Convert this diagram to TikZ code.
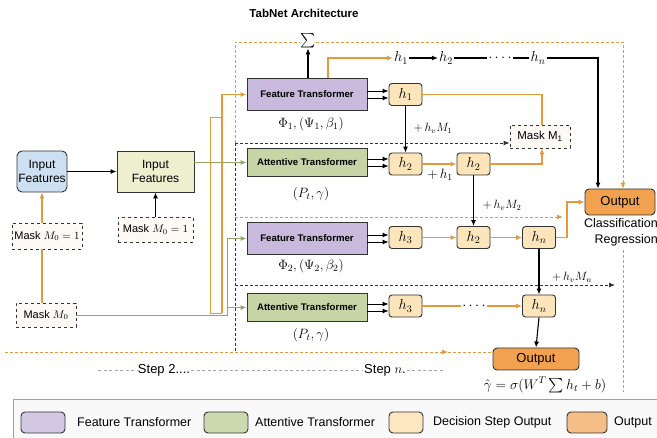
\documentclass[tikz,border=0pt]{standalone}
\usepackage{fix-cm}
\usepackage{amsmath}
\usepackage{fontspec}
\setmainfont{Liberation Sans}
\usetikzlibrary{arrows.meta,calc}

\definecolor{ftfill}{HTML}{C9B9DD}
\definecolor{atfill}{HTML}{C7D5A6}
\definecolor{hfill}{HTML}{FCE5BA}
\definecolor{infill}{HTML}{CCE0F1}
\definecolor{inbfill}{HTML}{EDEFCF}
\definecolor{outfill}{HTML}{F2A24F}
\definecolor{maskfill}{HTML}{FDF9F5}
\definecolor{orl}{HTML}{E49A3A}
\definecolor{grl}{HTML}{8EA66A}
\definecolor{edge}{HTML}{333333}
\definecolor{legft}{HTML}{D3C8E3}
\definecolor{legat}{HTML}{CCD9AE}
\definecolor{legh}{HTML}{FCE7C0}
\definecolor{legout}{HTML}{F5BE86}

\newcommand{\fourdots}{{\cdot}\,{\cdot}\,{\cdot}\,{\cdot}}

\tikzset{
  boxbase/.style={draw=edge, line width=0.9pt, inner sep=0pt},
  ftbox/.style={boxbase, fill=ftfill, minimum width=120pt, minimum height=32pt,
    font=\bfseries\fontsize{9.6}{11}\selectfont},
  atbox/.style={boxbase, fill=atfill, minimum width=120pt, minimum height=28pt,
    font=\bfseries\fontsize{9.6}{11}\selectfont},
  hbox/.style={boxbase, rounded corners=3pt, fill=hfill, minimum width=33pt,
    minimum height=22pt, font=\fontsize{14.5}{15}\selectfont},
  maskbox/.style={draw=edge, dashed, line width=0.7pt, fill=maskfill, inner sep=0pt,
    font=\fontsize{11}{12}\selectfont},
  outbox/.style={boxbase, rounded corners=4pt, fill=outfill,
    font=\fontsize{13}{14}\selectfont},
  arr/.style={-{Latex[length=6pt,width=5pt]}},
  blk/.style={draw=black, line width=1.1pt},
  org/.style={draw=orl, line width=1.2pt},
  grn/.style={draw=grl, line width=0.9pt},
  odash/.style={draw=orl, line width=0.9pt, dash pattern=on 3pt off 2pt},
  kdash/.style={draw=edge, line width=0.9pt, dash pattern=on 3pt off 2pt},
  sdash/.style={draw=gray!70, line width=0.7pt, dash pattern=on 3pt off 2.5pt},
  plain/.style={inner sep=1pt},
  chain/.style={inner sep=1pt, font=\fontsize{14.5}{15}\selectfont},
  lab/.style={inner sep=1pt, font=\fontsize{13.5}{14}\selectfont},
  small/.style={inner sep=1pt, font=\fontsize{12}{13}\selectfont},
  legsw/.style={draw=edge, line width=0.9pt, rounded corners=4pt, minimum width=44pt,
    minimum height=21pt},
  legtx/.style={anchor=west, inner sep=0pt, font=\fontsize{12.5}{14}\selectfont},
}

\begin{document}
\begin{tikzpicture}[x=1pt,y=-1pt]
\useasboundingbox (0,0) rectangle (657,438);
\fill[white] (0,0) rectangle (657,438);

% ---------- legend ----------
\draw[draw=gray!75, fill=gray!5, line width=1pt] (13,400) rectangle (690,470);
\node[legsw, fill=legft]  (lg1) at (43,422.5)  {};
\node[legtx] (lt1) at (77,422.5) {Feature Transformer};
\node[legsw, fill=legat]  (lg2) at (226,422.5) {};
\node[legtx] (lt2) at (255,422.5) {Attentive Transformer};
\node[legsw, fill=legh, minimum width=34pt] (lg3) at (406,422.5) {};
\node[legtx] (lt3) at (433,422.5) {Decision Step Output};
\node[legsw, fill=legout, minimum width=40pt] (lg4) at (587,422.5) {};
\node[legtx] (lt4) at (614,422.5) {Output};

% ---------- title and sum ----------
\node[inner sep=0pt, font=\bfseries\fontsize{11.5}{13}\selectfont] (title) at (304,13) {TabNet Architecture};
\node[inner sep=0pt, font=\fontsize{15}{15}\selectfont] (sigma) at (308,41) {$\sum$};

% ---------- input side ----------
\node[boxbase, rounded corners=5pt, fill=infill, minimum width=50pt, minimum height=41pt,
  align=center, font=\fontsize{12}{14}\selectfont] (inA) at (42,171.5) {Input\\Features};
\node[boxbase, fill=inbfill, minimum width=77pt, minimum height=41pt,
  align=center, font=\fontsize{12}{14}\selectfont] (inB) at (155.5,171.5) {Input\\Features};
\node[maskbox, minimum width=70pt, minimum height=26pt] (maskA) at (47,236) {Mask $M_0 = 1$};
\node[maskbox, minimum width=75pt, minimum height=25pt] (maskB) at (155.5,229.5) {Mask $M_0 = 1$};
\node[maskbox, minimum width=60pt, minimum height=24pt] (mask0) at (46,315) {Mask $M_0$};

% ---------- transformers ----------
\node[ftbox] (ft1) at (307,94.5)  {Feature Transformer};
\node[atbox] (at1) at (307,162.5) {Attentive Transformer};
\node[ftbox] (ft2) at (307,238.5) {Feature Transformer};
\node[atbox] (at2) at (307,307.5) {Attentive Transformer};
\node[lab] (ft1lab) at (311,124) {$\Phi_1, (\Psi_1, \beta_1)$};
\node[lab] (at1lab) at (311,194) {$(P_t, \gamma)$};
\node[lab] (ft2lab) at (311,266) {$\Phi_2, (\Psi_2, \beta_2)$};
\node[lab] (at2lab) at (311,335) {$(P_t, \gamma)$};

% ---------- decision step outputs ----------
\node[hbox] (h1a) at (405.5,94.5) {$h_1$};
\node[hbox] (h2a) at (405.5,164)  {$h_2$};
\node[hbox] (h2b) at (473.5,164)  {$h_2$};
\node[hbox] (h3c) at (405.5,237.5) {$h_3$};
\node[hbox] (h2c) at (473.5,237.5) {$h_2$};
\node[hbox] (hnc) at (539,237.5)   {$h_n$};
\node[hbox] (h3d) at (405.5,306)   {$h_3$};
\node[hbox] (hnd) at (539,306)     {$h_n$};
\node[chain] (ddots) at (474,306) {$\fourdots$};

\node[maskbox, font=\fontsize{11.5}{13}\selectfont, minimum width=60pt, minimum height=23pt]
  (mask1) at (540,136.5) {Mask M\textsubscript{1}};

% ---------- outputs ----------
\node[outbox, minimum width=70pt, minimum height=26pt] (out1) at (620,202) {Output};
\node[anchor=north east, align=right, inner sep=0pt, font=\fontsize{12.5}{16}\selectfont]
  (cls) at (658,218) {Classification\\Regression};
\node[outbox, minimum width=86pt, minimum height=22pt] (out2) at (536,359) {Output};
\node[inner sep=0pt, font=\fontsize{14}{15}\selectfont] (form) at (545,385)
  {$\hat{\gamma} = \sigma(W^{T}\textstyle\sum h_t + b)$};

% ---------- running sum chain ----------
\node[chain] (th1) at (401,58) {$h_1$};
\node[chain] (th2) at (446,58) {$h_2$};
\node[chain] (tdots) at (500,58) {$\fourdots$};
\node[chain] (thn) at (538,58) {$h_n$};

% ---------- step frames ----------
\coordinate (tl) at (235,42);
\coordinate (tr) at (623,42);
\coordinate (l1) at (235,143);
\coordinate (l2) at (235,217);
\coordinate (l3) at (235,285);
\coordinate (lb) at (235,352);
\coordinate (ob) at (5,352);
\coordinate (e2) at (563,217);
\coordinate (e3) at (615,285);
\coordinate (rb1) at (623,250);
\coordinate (rb2) at (623,392);
\coordinate (mid) at (448,352);

\draw[odash] (l1) -- (tl) -- (tl -| sigma.west);
\draw[odash, arr] (tl -| sigma.east) -- (tr) -- (tr |- out1.north);
\draw[kdash] (l1) -- (lb);
\draw[kdash, arr] (l1) -- (l1 -| mask1.west);
\draw[odash, arr] (l2) -- (e2);
\draw[kdash, arr] (l3) -- (e3);
\draw[odash, arr] (ob) -- (mid);
\draw[odash] (mid) -- (mid -| out2.west);
\draw[odash] (rb1) -- (rb2);

\node[small] (m1lab) at (433,128) {$+\,h_v M_1$};
\node[small] (m2lab) at (502,205) {$+\,h_v M_2$};
\node[small] (mnlab) at (572,277) {$+\,h_v M_n$};
\node[lab] (p1lab) at (440,175) {$+\,h_1$};

% ---------- step captions ----------
\node[plain, font=\fontsize{13}{14}\selectfont] (st2) at (164,370) {Step 2....};
\node[plain, font=\fontsize{13}{14}\selectfont] (stn) at (385,370) {Step $n$.};
\coordinate (s0) at (98,370);
\coordinate (s9) at (445,370);
\draw[sdash] (s0) -- (st2.west);
\draw[sdash] (st2.east) -- (stn.west);
\draw[sdash] (stn.east) -- (s9);

% ---------- input connectors ----------
\draw[blk, arr] (inA.east) -- (inB.west);
\draw[org, arr] (maskA.north -| inA) -- (inA.south);
\draw[org] (mask0.north -| inA) -- (maskA.south -| inA);
\draw[blk, arr] (maskB.north) -- (inB.south);
\draw[grn, arr] (inB.east |- at1.west) -- (at1.west);

% orange feedback into the first feature transformer
\coordinate (ta) at (210,117);
\coordinate (tb) at (222,117);
\coordinate (bb) at (210,313);
\coordinate (bc) at (222,313);
\draw[orl, line width=0.7pt] (tb) -- (ta) -- (bb) -- (bc);
\draw[org, arr] (bc) -- (bc |- ft1.west) -- (ft1.west);

% mask feeding the next step
\coordinate (gk) at (227,315);
\draw[grn, arr] (mask0.east) -- (gk) -- (gk |- ft2.west) -- (ft2.west);
\draw[grn, arr] (gk |- at2.west) -- (at2.west);

% ---------- transformer to decision outputs ----------
\foreach \a/\b in {ft1/h1a, at1/h2a, ft2/h3c, at2/h3d}{
  \path ([yshift=3.5pt]\a.east) coordinate (pu) ([yshift=-3.5pt]\a.east) coordinate (pd);
  \draw[black, line width=0.9pt, arr] (pu) -- (pu -| \b.west);
  \draw[black, line width=0.9pt, arr] (pd) -- (pd -| \b.west);
}

% ---------- sum chain connectors ----------
\draw[blk, arr] (sigma.south |- ft1.north) -- (sigma.south);
\coordinate (fo) at (328,78);
\draw[org, arr] (fo) -- (fo |- th1.west) -- (th1.west);
\draw[blk, arr] (th1.east) -- (th2.west);
\draw[blk] (th2.east) -- (tdots.west);
\draw[blk] (tdots.east) -- (thn.west);
\coordinate (tk) at (598,58);
\draw[blk, arr] (thn.east) -- (tk) -- (tk |- out1.north);

% ---------- decision step connectors ----------
\coordinate (mk) at (542,0);
\draw[org] (h1a.east) -- (h1a.east -| mk) -- (mk |- mask1.north);
\draw[blk, arr] (h1a.south) -- (h2a.north);
\draw[org, arr] (h2a.east) -- (h2b.west);
\draw[org, arr] (h2b.east) -- (h2b.east -| mk) -- (mk |- mask1.south);
\draw[blk, arr] (h2b.south) -- (h2c.north);
\draw[org, arr] (h3c.east) -- (h2c.west);
\draw[org, arr] (h2c.east) -- (hnc.west);
\coordinate (ok) at (567,237.5);
\draw[org, arr] (hnc.east) -- (ok) -- (ok |- out1.west) -- (out1.west);
\draw[blk, arr] (hnc.south) -- (hnd.north);
\draw[org] (h3d.east) -- (ddots.west);
\draw[org, arr] (ddots.east) -- (hnd.west);
\draw[blk, arr] (hnd.south) -- (out2.north);
\end{tikzpicture}
\end{document}
